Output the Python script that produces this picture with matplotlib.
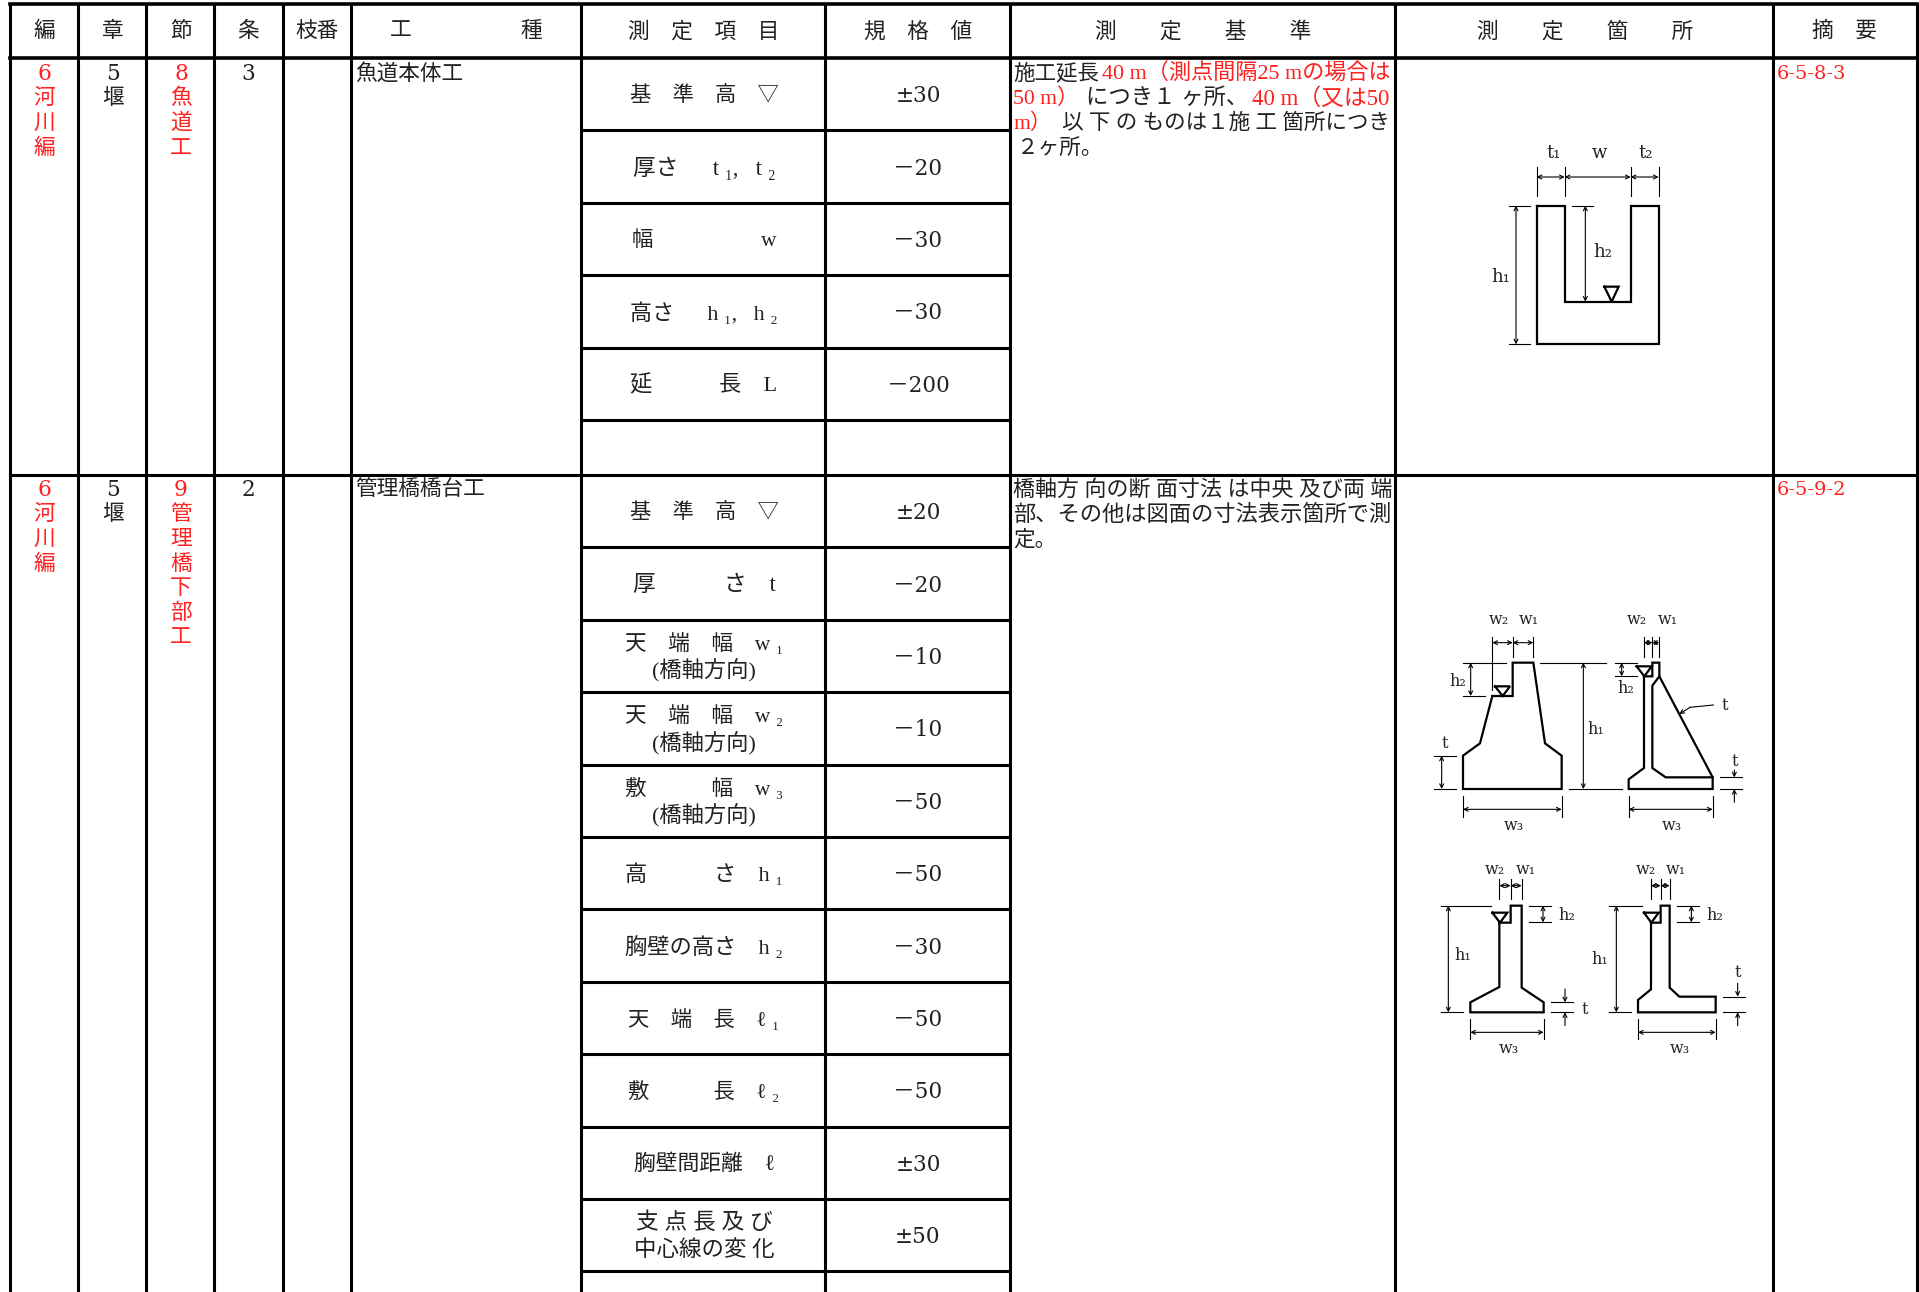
import matplotlib
matplotlib.use('Agg')
import matplotlib.pyplot as plt

plt.rcParams['font.family'] = ['Liberation Serif', 'Noto Sans CJK JP']

INK = '#222222'
RED = '#ff2020'
FS = 15.6
LABEL_FONT = ['DejaVu Serif', 'Noto Sans CJK JP']

# table text
headers = [('編', 44), ('章', 113), ('節', 181), ('条', 248), ('枝番', 317), ('工', 401), ('種', 531),
           ('測　定　項　目', 704), ('規　格　値', 918), ('測　　定　　基　　準', 1203),
           ('測　　定　　箇　　所', 1585), ('摘　要', 1844)]

sec1_hen = ['6', '河', '川', '編']
sec1_sho = ['5', '堰']
sec1_setsu = ['8', '魚', '道', '工']
sec1_jo = '3'
sec1_koshu = '魚道本体工'
sec1_tekiyo = '6-5-8-3'
sec1_items = [['基　準　高　▽'], ['厚さ　  t ₁,   t ₂'], ['幅　　　　　w'], ['高さ　  h ₁,   h ₂'], ['延　　　長　L'], []]
sec1_widths = [[149], [144], [144], [148], [147], []]
sec1_values = ['±30', '－20', '－30', '－30', '－200', '']

sec2_hen = ['6', '河', '川', '編']
sec2_sho = ['5', '堰']
sec2_setsu = ['9', '管', '理', '橋', '下', '部', '工']
sec2_jo = '2'
sec2_koshu = '管理橋橋台工'
sec2_tekiyo = '6-5-9-2'
sec2_items = [['基　準　高　▽'], ['厚　　　さ　t'],
              ['天　端　幅　w ₁', '(橋軸方向)'], ['天　端　幅　w ₂', '(橋軸方向)'], ['敷　　　幅　w ₃', '(橋軸方向)'],
              ['高　　　さ　h ₁'], ['胸壁の高さ　h ₂'], ['天　端　長　ℓ ₁'], ['敷　　　長　ℓ ₂'],
              ['胸壁間距離　ℓ'], ['支 点 長 及 び', '中心線の変 化'], []]
sec2_widths = [[149], [146], [158, 104], [158, 104], [158, 104], [158], [158], [151], [151], [141], [150, 140], []]
sec2_values = ['±20', '－20', '－10', '－10', '－50', '－50', '－30', '－50', '－50', '±30', '±50', '']

sec1_para = [(72, [('施工延長', INK, 1013, 1099), ('40 m（測点間隔25 mの場合は', RED, 1102, 1391)]),
             (97, [('50 m）', RED, 1013, None), ('につき１ ヶ所、', INK, 1086, 1248), ('40 m（又は50', RED, 1252, 1391)]),
             (122, [('m）', RED, 1013, None), ('以 下 の ものは１施 工 箇所につき', INK, 1062, 1390)]),
             (147, [('２ヶ所。', INK, 1016, None)])]
sec2_para = [(488, [('橋軸方 向の断 面寸法 は中央 及び両 端', INK, 1013, 1391)]),
             (513, [('部、その他は図面の寸法表示箇所で測', INK, 1013, 1391)]),
             (538, [('定。', INK, 1013, None)])]

col_x = [10, 78, 146, 214, 282.5, 351, 581, 824.5, 1009.5, 1395, 1773, 1917]
row_top = 4
head_bottom = 58
sec_break = 475
row_h = 72.4

fig = plt.figure(figsize=(19.19, 12.92), dpi=100)
ax = fig.add_axes([0, 0, 1, 1])
ax.set_xlim(0, 1919)
ax.set_ylim(1292, 0)
ax.axis('off')
renderer = fig.canvas.get_renderer()


def put(x, y, s, color=INK, ha='center', size=FS, width=None, family=None):
    t = ax.text(x, y + 2, s, color=color, ha=ha, va='center', fontsize=size)
    if family:
        t.set_fontfamily(family)
    if width:
        # small corrections only, so the glyph size stays even
        k = width / t.get_window_extent(renderer).width
        t.set_fontsize(size * min(max(k, 0.95), 1.05))
    return t


def stack(x, y0, chars, color=INK):
    for i, c in enumerate(chars):
        put(x, y0 + i * 24.5, c, color, family=LABEL_FONT)


# grid
for x in col_x:
    ax.plot([x, x], [row_top, 1292], color='k', lw=2.2, solid_capstyle='butt')
ax.plot([col_x[0], col_x[-1]], [row_top, row_top], color='k', lw=2.6)
ax.plot([col_x[0], col_x[-1]], [head_bottom, head_bottom], color='k', lw=2.6)
ax.plot([col_x[0], col_x[-1]], [sec_break, sec_break], color='k', lw=2.2)
for k in range(1, 6):
    y = head_bottom + k * row_h
    ax.plot([col_x[6], col_x[8]], [y, y], color='k', lw=2.2)
for k in range(1, 12):
    y = sec_break + k * row_h
    ax.plot([col_x[6], col_x[8]], [y, y], color='k', lw=2.2)

for s, x in headers:
    put(x, 30, s)

# left columns
for y0, hen, sho, setsu, jo, koshu, tek in [
        (72, sec1_hen, sec1_sho, sec1_setsu, sec1_jo, sec1_koshu, sec1_tekiyo),
        (488, sec2_hen, sec2_sho, sec2_setsu, sec2_jo, sec2_koshu, sec2_tekiyo)]:
    stack(44, y0, hen, RED)
    stack(113, y0, sho)
    stack(181, y0, setsu, RED)
    put(248, y0, jo, family=LABEL_FONT)
    put(355, y0, koshu, ha='left')
    put(1777, y0, tek, RED, ha='left', size=14, family=LABEL_FONT)

# measurement rows
for top, items, widths, values in [(head_bottom, sec1_items, sec1_widths, sec1_values),
                                   (sec_break, sec2_items, sec2_widths, sec2_values)]:
    for k, (lines, ws, v) in enumerate(zip(items, widths, values)):
        mid = top + (k + 0.5) * row_h
        if len(lines) == 1:
            put(704, mid, lines[0], width=ws[0])
        elif len(lines) == 2:
            put(704, mid - 14, lines[0], width=ws[0])
            put(704, mid + 13, lines[1], width=ws[1])
        if v:
            put(918, mid, v, family=LABEL_FONT)

for para in [sec1_para, sec2_para]:
    for y, runs in para:
        for s, c, x0, x1 in runs:
            put(x0, y, s, c, ha='left', width=(x1 - x0) if x1 else None)


# drawings: every shape is given in crop pixels of its own panel
def line(pts, ox, oy, lw=1.6, scale=3.0, color='k', close=False):
    xs = [ox + p[0] / scale for p in pts]
    ys = [oy + p[1] / scale for p in pts]
    if close:
        xs.append(xs[0])
        ys.append(ys[0])
    ax.plot(xs, ys, color=color, lw=lw, solid_joinstyle='miter')


def dim(a, b, ox, oy, style='<->', scale=3.0):
    ax.annotate('', xy=(ox + b[0] / scale, oy + b[1] / scale), xytext=(ox + a[0] / scale, oy + a[1] / scale),
                arrowprops=dict(arrowstyle=style, lw=0.8, color='k', shrinkA=0, shrinkB=0, mutation_scale=7))


def label(s, pos, ox, oy, size=11.5, scale=3.0):
    put(ox + pos[0] / scale, oy + pos[1] / scale - 2, s, size=size, family=LABEL_FONT)


THIN = 0.8

# U channel
ox, oy = 1420, 120
line([(350, 257), (434, 257), (434, 545), (632, 545), (632, 257), (716, 257), (716, 673), (350, 673)], ox, oy, close=True, scale=3.0)
for x in [350, 434, 632, 716]:
    line([(x, 140), (x, 228)], ox, oy, THIN)
dim((350, 171), (434, 171), ox, oy)
dim((434, 171), (632, 171), ox, oy)
dim((632, 171), (716, 171), ox, oy)
line([(268, 257), (330, 257)], ox, oy, THIN)
line([(268, 673), (330, 673)], ox, oy, THIN)
line([(455, 257), (518, 257)], ox, oy, THIN)
dim((288, 257), (288, 673), ox, oy)
dim((496, 257), (496, 545), ox, oy)
line([(553, 500), (596, 500), (575, 545)], ox, oy, close=True)
for s, p in [('t₁', (400, 100)), ('w', (537, 100)), ('t₂', (678, 100)), ('h₂', (548, 395)), ('h₁', (242, 470))]:
    label(s, p, ox, oy, size=13)

# abutment, upper row
ox, oy = 1420, 600
line([(217, 288), (278, 288), (278, 188), (340, 188), (375, 430), (425, 467), (425, 567), (129, 567), (129, 467), (180, 430)], ox, oy, close=True)
line([(225, 259), (270, 259), (248, 288)], ox, oy, close=True)
line([(217, 110), (217, 270)], ox, oy, THIN)
for x in [278, 340]:
    line([(x, 110), (x, 170)], ox, oy, THIN)
dim((217, 128), (278, 128), ox, oy)
dim((278, 128), (340, 128), ox, oy)
for a, b, y in [(130, 258, 188), (360, 558, 188), (130, 196, 288), (42, 107, 467), (42, 107, 567), (447, 607, 567)]:
    line([(a, y), (b, y)], ox, oy, THIN)
dim((152, 188), (152, 288), ox, oy)
dim((65, 467), (65, 567), ox, oy)
dim((490, 188), (490, 567), ox, oy)
for x in [129, 425]:
    line([(x, 587), (x, 650)], ox, oy, THIN)
dim((129, 628), (425, 628), ox, oy)

line([(672, 229), (697, 229), (697, 188), (718, 188), (718, 229), (878, 532), (878, 567), (626, 567), (626, 538), (672, 504)], ox, oy, close=True)
line([(718, 229), (697, 257), (697, 504), (737, 532), (878, 532)], ox, oy)
line([(650, 199), (695, 199), (673, 229)], ox, oy, close=True)
for x in [672, 697, 718]:
    line([(x, 110), (x, 170)], ox, oy, THIN)
dim((672, 128), (697, 128), ox, oy)
dim((697, 128), (718, 128), ox, oy)
for a, b, y in [(585, 650, 188), (585, 650, 229), (900, 967, 532), (900, 967, 567)]:
    line([(a, y), (b, y)], ox, oy, THIN)
dim((605, 188), (605, 229), ox, oy)
line([(880, 315), (810, 322)], ox, oy, THIN)
dim((810, 322), (778, 342), ox, oy, '->')
dim((943, 510), (943, 532), ox, oy, '->')
dim((943, 607), (943, 567), ox, oy, '->')
for x in [626, 878]:
    line([(x, 587), (x, 650)], ox, oy, THIN)
dim((626, 628), (878, 628), ox, oy)
for s, p in [('w₂', (237, 60)), ('w₁', (327, 60)), ('h₂', (112, 245)), ('t', (73, 432)), ('h₁', (527, 388)), ('w₃', (282, 675)),
             ('w₂', (652, 60)), ('w₁', (742, 60)), ('h₂', (618, 265)), ('t', (913, 317)), ('t', (943, 485)), ('w₃', (757, 675))]:
    label(s, p, ox, oy)

# abutment, lower row
ox, oy = 1420, 850
line([(238, 218), (272, 218), (272, 167), (305, 167), (305, 413), (371, 457), (371, 487), (151, 487), (151, 457), (238, 411)], ox, oy, close=True)
line([(217, 188), (262, 188), (240, 218)], ox, oy, close=True)
for x in [238, 272, 305]:
    line([(x, 88), (x, 148)], ox, oy, THIN)
dim((238, 107), (272, 107), ox, oy)
dim((272, 107), (305, 107), ox, oy)
dim((85, 167), (85, 487), ox, oy)
dim((369, 167), (369, 217), ox, oy)
for a, b, y in [(63, 213, 167), (63, 130, 487), (327, 392, 167), (327, 392, 217), (392, 458, 457), (392, 458, 487)]:
    line([(a, y), (b, y)], ox, oy, THIN)
dim((435, 417), (435, 457), ox, oy, '->')
dim((435, 527), (435, 487), ox, oy, '->')
for x in [151, 371]:
    line([(x, 507), (x, 567)], ox, oy, THIN)
dim((151, 547), (371, 547), ox, oy)

line([(693, 218), (722, 218), (722, 167), (749, 167), (749, 413), (778, 440), (887, 440), (887, 487), (654, 487), (654, 450), (693, 418)], ox, oy, close=True)
line([(672, 188), (716, 188), (694, 218)], ox, oy, close=True)
for x in [693, 722, 749]:
    line([(x, 88), (x, 148)], ox, oy, THIN)
dim((693, 107), (722, 107), ox, oy)
dim((722, 107), (749, 107), ox, oy)
dim((589, 167), (589, 487), ox, oy)
dim((814, 167), (814, 217), ox, oy)
for a, b, y in [(567, 667, 167), (567, 633, 487), (772, 836, 167), (772, 836, 217), (908, 975, 440), (908, 975, 487)]:
    line([(a, y), (b, y)], ox, oy, THIN)
dim((953, 400), (953, 440), ox, oy, '->')
dim((953, 527), (953, 487), ox, oy, '->')
for x in [654, 887]:
    line([(x, 507), (x, 567)], ox, oy, THIN)
dim((654, 547), (887, 547), ox, oy)
for s, p in [('w₂', (226, 60)), ('w₁', (318, 60)), ('h₂', (440, 198)), ('h₁', (128, 315)), ('t', (493, 477)), ('w₃', (267, 595)),
             ('w₂', (678, 60)), ('w₁', (768, 60)), ('h₂', (884, 198)), ('h₁', (540, 330)), ('t', (952, 367)), ('w₃', (780, 595))]:
    label(s, p, ox, oy)

fig.savefig('out.png', dpi=100)
